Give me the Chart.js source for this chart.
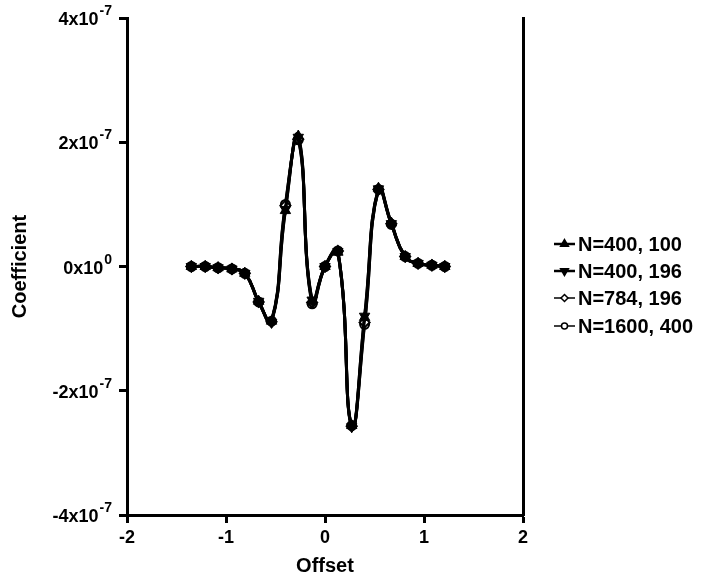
<!DOCTYPE html>
<html lang="en">
<head>
    <meta charset="UTF-8">
    <title>Coefficient vs Offset</title>
    <style>
        body {
            margin: 0;
            padding: 0;
            background-color: #fff;
        }

        .chart-container {
            position: relative;
            width: 713px;
            height: 581px;
        }
    </style>
    <script src="https://cdn.jsdelivr.net/npm/chart.js"></script>
</head>
<body>
    <div class="chart-container">
        <canvas id="coefChart"></canvas>
    </div>

    <script>
        // offsets (same for every run)
        const offsets = [-1.35, -1.21, -1.08, -0.94, -0.81, -0.67, -0.54, -0.40, -0.27, -0.13,
                         0.00, 0.13, 0.27, 0.40, 0.54, 0.67, 0.81, 0.94, 1.08, 1.21];

        // coefficients, in units of 1e-7
        const n400_100 = [0, 0, -0.02, -0.04, -0.11, -0.56, -0.88, 0.90, 2.10, -0.56,
                          0, 0.23, -2.56, -0.82, 1.26, 0.70, 0.16, 0.05, 0.02, 0];
        const n400_196 = [0, 0, -0.02, -0.04, -0.11, -0.56, -0.90, 0.92, 2.08, -0.54,
                          0, 0.24, -2.58, -0.80, 1.25, 0.69, 0.16, 0.05, 0.02, 0];
        const n784_196 = [0, 0, -0.02, -0.04, -0.11, -0.57, -0.89, 0.98, 2.05, -0.58,
                          0, 0.25, -2.57, -0.90, 1.24, 0.69, 0.16, 0.05, 0.02, 0];
        const n1600_400 = [0, 0, -0.02, -0.04, -0.11, -0.57, -0.88, 1.00, 2.04, -0.60,
                           0, 0.25, -2.56, -0.93, 1.24, 0.68, 0.16, 0.05, 0.02, 0];

        const seriesLabels = ['N=400, 100', 'N=400, 196', 'N=784, 196', 'N=1600, 400'];

        // y tick labels: value, mantissa, exponent
        const yTickValues = [4, 2, 0, -2, -4];
        const yTickBase = ['4x10', '2x10', '0x10', '-2x10', '-4x10'];
        const yTickExp = ['-7', '-7', '0', '-7', '-7'];

        const xTickValues = [-2, -1, 0, 1, 2];

        const FONT = "'Liberation Sans', Arial, sans-serif";

        function pts(ys) {
            return offsets.map((x, i) => ({ x: x, y: ys[i] }));
        }

        const markerStyles = [
            { pointStyle: 'triangle', rotation: 0, radius: 6, bg: '#000', bw: 1 },
            { pointStyle: 'triangle', rotation: 180, radius: 6, bg: '#000', bw: 1 },
            { pointStyle: 'rectRot', rotation: 0, radius: 5, bg: '#fff', bw: 2 },
            { pointStyle: 'circle', rotation: 0, radius: 4.5, bg: '#fff', bw: 2 }
        ];

        const allSeries = [n400_100, n400_196, n784_196, n1600_400];

        const datasets = allSeries.map((ys, i) => ({
            label: seriesLabels[i],
            data: pts(ys),
            showLine: true,
            borderColor: '#000',
            borderWidth: 3,
            tension: 0.5,
            pointStyle: markerStyles[i].pointStyle,
            rotation: markerStyles[i].rotation,
            pointRadius: markerStyles[i].radius,
            pointBackgroundColor: markerStyles[i].bg,
            pointBorderColor: '#000',
            pointBorderWidth: markerStyles[i].bw
        }));

        // y labels with real superscripts + legend with line and marker
        const extrasPlugin = {
            id: 'extras',
            afterDraw(chart) {
                const ctx = chart.ctx;
                const yScale = chart.scales.y;
                ctx.save();
                ctx.fillStyle = '#000';
                ctx.textBaseline = 'alphabetic';
                const rightEdge = 112;
                yTickValues.forEach((v, i) => {
                    const py = yScale.getPixelForValue(v);
                    ctx.font = 'bold 18px ' + FONT;
                    const wb = ctx.measureText(yTickBase[i]).width;
                    ctx.font = 'bold 14px ' + FONT;
                    const we = ctx.measureText(yTickExp[i]).width;
                    const x0 = rightEdge - wb - we - 1;
                    ctx.font = 'bold 18px ' + FONT;
                    ctx.textAlign = 'left';
                    ctx.fillText(yTickBase[i], x0, py + 7);
                    ctx.font = 'bold 14px ' + FONT;
                    ctx.fillText(yTickExp[i], x0 + wb + 1, py - 3);
                });

                // legend
                const lx1 = 554, lx2 = 575, tx = 578;
                const rowY = [244, 271, 298, 326];
                chart.data.datasets.forEach((ds, i) => {
                    const y = rowY[i];
                    ctx.strokeStyle = '#000';
                    ctx.lineWidth = i < 2 ? 2.5 : 1.5;
                    ctx.beginPath();
                    ctx.moveTo(lx1, y);
                    ctx.lineTo(lx2, y);
                    ctx.stroke();
                    ctx.fillStyle = markerStyles[i].bg;
                    ctx.lineWidth = 1.5;
                    Chart.helpers.drawPoint(ctx, {
                        pointStyle: markerStyles[i].pointStyle,
                        rotation: markerStyles[i].rotation,
                        radius: markerStyles[i].radius - 1.5,
                        borderWidth: 1.5
                    }, (lx1 + lx2) / 2, y);
                    ctx.fillStyle = '#000';
                    ctx.font = 'bold 20px ' + FONT;
                    ctx.textAlign = 'left';
                    ctx.textBaseline = 'middle';
                    ctx.fillText(ds.label, tx, y + 1);
                    ctx.textBaseline = 'alphabetic';
                });
                ctx.restore();
            }
        };

        const ctx = document.getElementById('coefChart').getContext('2d');
        const coefChart = new Chart(ctx, {
            type: 'scatter',
            data: { datasets: datasets },
            options: {
                responsive: true,
                maintainAspectRatio: false,
                animation: false,
                layout: {
                    padding: { left: 8, top: 18, right: 0, bottom: 3 }
                },
                plugins: {
                    legend: { display: false },
                    tooltip: { enabled: false }
                },
                scales: {
                    x: {
                        type: 'linear',
                        min: -2,
                        max: 2,
                        afterBuildTicks: (scale) => {
                            scale.ticks = xTickValues.map(v => ({ value: v }));
                        },
                        afterFit: (scale) => { scale.height = 63; },
                        border: { display: true, color: '#000', width: 3 },
                        grid: {
                            drawOnChartArea: false,
                            drawTicks: true,
                            tickLength: 8,
                            tickWidth: 3,
                            tickColor: '#000'
                        },
                        ticks: {
                            color: '#000',
                            padding: 4,
                            font: { family: FONT, size: 18, weight: 'bold' },
                            callback: (v) => String(v)
                        },
                        title: {
                            display: true,
                            text: 'Offset',
                            color: '#000',
                            padding: { top: 0, bottom: 0 },
                            font: { family: FONT, size: 20, weight: 'bold' }
                        }
                    },
                    y: {
                        type: 'linear',
                        position: 'left',
                        min: -4,
                        max: 4,
                        afterBuildTicks: (scale) => {
                            scale.ticks = yTickValues.map(v => ({ value: v }));
                        },
                        afterFit: (scale) => { scale.width = 119; },
                        border: { display: true, color: '#000', width: 3 },
                        grid: {
                            drawOnChartArea: false,
                            drawTicks: true,
                            tickLength: 8,
                            tickWidth: 3,
                            tickColor: '#000'
                        },
                        ticks: {
                            color: 'rgba(0,0,0,0)',
                            font: { family: FONT, size: 17, weight: 'bold' },
                            callback: () => ''
                        },
                        title: {
                            display: true,
                            text: 'Coefficient',
                            color: '#000',
                            padding: { top: 0, bottom: 0 },
                            font: { family: FONT, size: 20, weight: 'bold' }
                        }
                    },
                    y2: {
                        type: 'linear',
                        position: 'right',
                        min: -4,
                        max: 4,
                        afterFit: (scale) => { scale.width = 190; },
                        border: { display: true, color: '#000', width: 3 },
                        grid: { drawOnChartArea: false, drawTicks: false },
                        ticks: { display: false }
                    }
                }
            },
            plugins: [extrasPlugin]
        });
    </script>
</body>
</html>
